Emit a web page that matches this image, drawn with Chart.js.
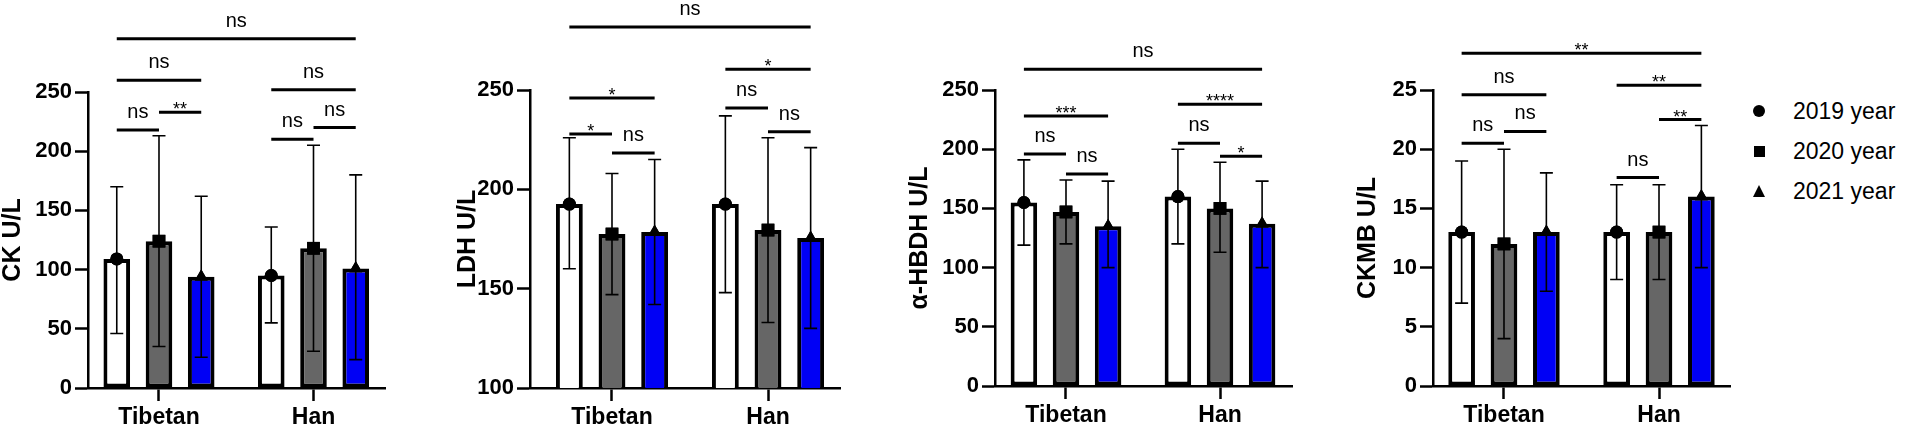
<!DOCTYPE html>
<html lang="en">
<head>
    <meta charset="UTF-8">
    <title>CK, LDH, α-HBDH and CKMB by year, Tibetan vs Han</title>
    <style>
        body {
            margin: 0;
            padding: 0;
            background: #fff;
            font-family: Arial, "Liberation Sans", Helvetica, sans-serif;
        }

        #wrap {
            position: relative;
            width: 1905px;
            height: 428px;
            overflow: hidden;
        }

        #wrap canvas {
            position: absolute;
            top: 0;
        }

        #legend {
            position: absolute;
            left: 1745px;
            top: 91px;
            font-size: 23px;
            color: #000;
        }

        .row {
            display: flex;
            align-items: center;
            height: 40px;
        }

        .mk {
            width: 28px;
            display: flex;
            justify-content: center;
            align-items: center;
            margin-right: 20px;
        }

        .circle { width: 12px; height: 12px; border-radius: 50%; background: #000; }
        .square { width: 11px; height: 11px; background: #000; }
        .triangle {
            width: 0; height: 0;
            border-left: 6.5px solid transparent;
            border-right: 6.5px solid transparent;
            border-bottom: 12px solid #000;
        }
    </style>
</head>
<body>

    <div id="wrap">
        <div id="legend">
            <div class="row"><span class="mk"><span class="circle"></span></span><span>2019 year</span></div>
            <div class="row"><span class="mk"><span class="square"></span></span><span>2020 year</span></div>
            <div class="row"><span class="mk"><span class="triangle"></span></span><span>2021 year</span></div>
        </div>
    </div>

    <script src="https://cdn.jsdelivr.net/npm/chart.js"></script>

    <script>
        // categories and series
        var groups = ['Tibetan', 'Han'];
        var years = ['2019 year', '2020 year', '2021 year'];
        var barColors = ['#ffffff', '#666666', '#0000f5'];
        var markerStyles = ['circle', 'rect', 'triangle'];

        // rows = years (2019, 2020, 2021), columns = groups (Tibetan, Han)
        var ckMean = [[109, 95], [124, 118], [94, 101]];
        var ckLow = [[46, 55], [35, 31], [26, 24]];
        var ckHigh = [[170, 136], [213, 205], [162, 180]];
        var ckTicks = [0, 50, 100, 150, 200, 250];

        var ldhMean = [[192.6, 192.6], [177.5, 179.5], [178.5, 175.5]];
        var ldhLow = [[160, 148], [147, 133], [142, 130]];
        var ldhHigh = [[226, 237], [208, 226], [215, 221]];
        var ldhTicks = [100, 150, 200, 250];

        var hbdhMean = [[155, 160], [147, 150], [135, 137]];
        var hbdhLow = [[119, 120], [120, 113], [100, 100]];
        var hbdhHigh = [[191, 200], [174, 189], [173, 173]];
        var hbdhTicks = [0, 50, 100, 150, 200, 250];

        var ckmbMean = [[13, 13], [12, 13], [13, 16]];
        var ckmbLow = [[7, 9], [4, 9], [8, 10]];
        var ckmbHigh = [[19, 17], [20, 17], [18, 22]];
        var ckmbTicks = [0, 5, 10, 15, 20, 25];

        // significance brackets: [group A, year A, group B, year B, height (axis units), label]
        var ckSig = [
            [0, 0, 0, 1, 218, 'ns'], [0, 1, 0, 2, 233, '**'], [0, 0, 0, 2, 260, 'ns'],
            [1, 0, 1, 1, 210, 'ns'], [1, 1, 1, 2, 220, 'ns'], [1, 0, 1, 2, 252, 'ns'],
            [0, 0, 1, 2, 295, 'ns']
        ];
        var ldhSig = [
            [0, 0, 0, 1, 227.8, '*'], [0, 1, 0, 2, 218.3, 'ns'], [0, 0, 0, 2, 246, '*'],
            [1, 0, 1, 1, 241, 'ns'], [1, 1, 1, 2, 229, 'ns'], [1, 0, 1, 2, 260.5, '*'],
            [0, 0, 1, 2, 281.7, 'ns']
        ];
        var hbdhSig = [
            [0, 0, 0, 1, 196, 'ns'], [0, 1, 0, 2, 179, 'ns'], [0, 0, 0, 2, 228, '***'],
            [1, 0, 1, 1, 205, 'ns'], [1, 1, 1, 2, 194, '*'], [1, 0, 1, 2, 238, '****'],
            [0, 0, 1, 2, 267.6, 'ns']
        ];
        var ckmbSig = [
            [0, 0, 0, 1, 20.5, 'ns'], [0, 1, 0, 2, 21.5, 'ns'], [0, 0, 0, 2, 24.6, 'ns'],
            [1, 0, 1, 1, 17.6, 'ns'], [1, 1, 1, 2, 22.5, '**'], [1, 0, 1, 2, 25.4, '**'],
            [0, 0, 1, 2, 28.1, '**']
        ];

        var FONT = 'Arial, "Liberation Sans", Helvetica, sans-serif';
        Chart.defaults.font.family = FONT;
        Chart.defaults.color = '#000';

        // panel placement on the page
        var panels = [
            { title: 'CK U/L', mean: ckMean, low: ckLow, high: ckHigh, ticks: ckTicks, sig: ckSig,
              left: 0, axisX: 88, right: 385, top: 92, bottom: 388, titleX: 13, xMin: -0.4595, xMax: 1.4628 },
            { title: 'LDH U/L', mean: ldhMean, low: ldhLow, high: ldhHigh, ticks: ldhTicks, sig: ldhSig,
              left: 440, axisX: 530, right: 840, top: 90, bottom: 388, titleX: 468, xMin: -0.5256, xMax: 1.4615 },
            { title: 'α-HBDH U/L', mean: hbdhMean, low: hbdhLow, high: hbdhHigh, ticks: hbdhTicks, sig: hbdhSig,
              left: 890, axisX: 995, right: 1292, top: 90, bottom: 386, titleX: 920, xMin: -0.461, xMax: 1.4675 },
            { title: 'CKMB U/L', mean: ckmbMean, low: ckmbLow, high: ckmbHigh, ticks: ckmbTicks, sig: ckmbSig,
              left: 1330, axisX: 1433, right: 1730, top: 90, bottom: 386, titleX: 1368, xMin: -0.458, xMax: 1.458 }
        ];

        function drawMarker(ctx, style, x, y) {
            if (Chart.helpers && Chart.helpers.drawPoint) {
                var r = style === 'circle' ? 6.5 : (style === 'rect' ? 9 : 7.5);
                Chart.helpers.drawPoint(ctx, { pointStyle: style, radius: r, rotation: 0, borderWidth: 0 }, x, y);
                ctx.fill();
                return;
            }
            ctx.beginPath();
            if (style === 'circle') {
                ctx.arc(x, y, 6.5, 0, Math.PI * 2);
            } else if (style === 'rect') {
                ctx.rect(x - 6.5, y - 6.5, 13, 13);
            } else {
                ctx.moveTo(x, y - 7);
                ctx.lineTo(x + 6.5, y + 5);
                ctx.lineTo(x - 6.5, y + 5);
                ctx.closePath();
            }
            ctx.fill();
        }

        // error bars, mean markers and significance brackets
        function marksPlugin(p) {
            return {
                id: 'marks',
                afterDatasetsDraw: function (chart) {
                    var ctx = chart.ctx;
                    var ys = chart.scales.y;
                    ctx.save();
                    ctx.strokeStyle = '#000';
                    ctx.fillStyle = '#000';

                    // error bars
                    ctx.lineWidth = 1.6;
                    for (var i = 0; i < years.length; i++) {
                        var meta = chart.getDatasetMeta(i);
                        meta.data.forEach(function (bar, j) {
                            var yLo = ys.getPixelForValue(p.low[i][j]);
                            var yHi = ys.getPixelForValue(p.high[i][j]);
                            ctx.beginPath();
                            ctx.moveTo(bar.x, yLo);
                            ctx.lineTo(bar.x, yHi);
                            ctx.moveTo(bar.x - 6.5, yLo);
                            ctx.lineTo(bar.x + 6.5, yLo);
                            ctx.moveTo(bar.x - 6.5, yHi);
                            ctx.lineTo(bar.x + 6.5, yHi);
                            ctx.stroke();
                        });
                    }

                    // mean markers
                    for (var k = 0; k < years.length; k++) {
                        chart.getDatasetMeta(k).data.forEach(function (bar) {
                            drawMarker(ctx, markerStyles[k], bar.x, bar.y);
                        });
                    }

                    // brackets
                    ctx.textAlign = 'center';
                    ctx.textBaseline = 'alphabetic';
                    p.sig.forEach(function (s) {
                        var xa = chart.getDatasetMeta(s[1]).data[s[0]].x;
                        var xb = chart.getDatasetMeta(s[3]).data[s[2]].x;
                        var yy = ys.getPixelForValue(s[4]);
                        ctx.lineWidth = 3;
                        ctx.beginPath();
                        ctx.moveTo(xa, yy);
                        ctx.lineTo(xb, yy);
                        ctx.stroke();
                        if (s[5].indexOf('*') >= 0) {
                            ctx.font = '18px ' + FONT;
                            ctx.fillText(s[5], (xa + xb) / 2, yy + 3);
                        } else {
                            ctx.font = '20px ' + FONT;
                            ctx.fillText(s[5], (xa + xb) / 2, yy - 12);
                        }
                    });
                    ctx.restore();
                }
            };
        }

        var wrap = document.getElementById('wrap');

        panels.forEach(function (p) {
            var width = p.right - p.left + 4;
            var canvas = document.createElement('canvas');
            canvas.width = width;
            canvas.height = 428;
            canvas.style.left = p.left + 'px';
            canvas.style.width = width + 'px';
            canvas.style.height = '428px';
            wrap.appendChild(canvas);

            var datasets = years.map(function (yr, i) {
                return {
                    label: yr,
                    data: groups.map(function (g, j) { return { x: j, y: p.mean[i][j] }; }),
                    backgroundColor: barColors[i],
                    borderColor: '#000',
                    borderWidth: 4,
                    borderSkipped: false,
                    categoryPercentage: 0.82,
                    barPercentage: 0.63
                };
            });

            new Chart(canvas.getContext('2d'), {
                type: 'bar',
                data: { datasets: datasets },
                options: {
                    responsive: false,
                    animation: false,
                    devicePixelRatio: 1,
                    layout: {
                        padding: { top: p.top, left: 0, right: width - (p.right - p.left), bottom: 0 }
                    },
                    plugins: {
                        legend: { display: false },
                        tooltip: { enabled: false }
                    },
                    scales: {
                        x: {
                            type: 'linear',
                            min: p.xMin,
                            max: p.xMax,
                            offset: false,
                            afterBuildTicks: function (scale) {
                                scale.ticks = groups.map(function (g, j) { return { value: j }; });
                            },
                            afterFit: function (scale) { scale.height = 428 - p.bottom; },
                            ticks: {
                                callback: function (v) { return groups[v]; },
                                font: { size: 23, weight: 'bold' },
                                padding: 3,
                                maxRotation: 0
                            },
                            grid: {
                                display: true,
                                offset: false,
                                drawOnChartArea: false,
                                drawTicks: true,
                                tickLength: 13,
                                tickWidth: 2.5,
                                color: '#000'
                            },
                            border: { display: true, color: '#000', width: 2.5 }
                        },
                        y: {
                            min: p.ticks[0],
                            max: p.ticks[p.ticks.length - 1],
                            afterFit: function (scale) { scale.width = p.axisX - p.left; },
                            ticks: {
                                stepSize: p.ticks[1] - p.ticks[0],
                                font: { size: 22, weight: 'bold' },
                                padding: 3
                            },
                            grid: {
                                display: true,
                                drawOnChartArea: false,
                                drawTicks: true,
                                tickLength: 13,
                                tickWidth: 2.5,
                                color: '#000'
                            },
                            border: { display: true, color: '#000', width: 2.5 },
                            title: {
                                display: true,
                                text: p.title,
                                font: { size: 25, weight: 'bold', lineHeight: 1 },
                                padding: { top: p.titleX - p.left - 12.5, bottom: 0 }
                            }
                        }
                    }
                },
                plugins: [marksPlugin(p)]
            });
        });
    </script>

</body>
</html>
